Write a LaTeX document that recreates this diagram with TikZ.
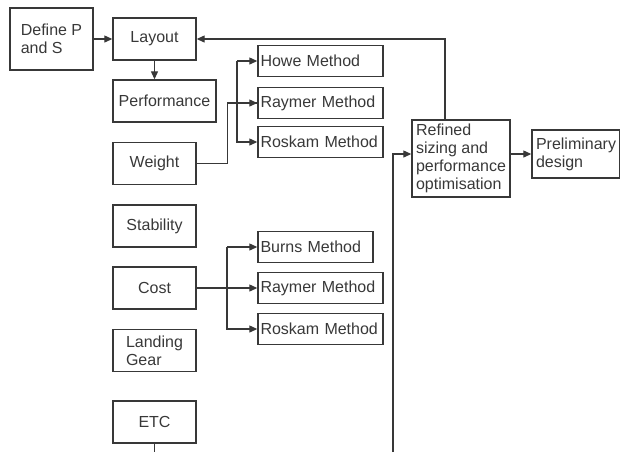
\documentclass[tikz,border=0pt]{standalone}
\usepackage{fontspec}
\setmainfont{Liberation Sans}
\usetikzlibrary{arrows.meta}
\definecolor{ink}{HTML}{383838}
\tikzset{
  stage/.style={rectangle,draw=ink,line width=0.7pt,align=left,text=ink,inner sep=2pt,minimum width=41.5pt,minimum height=21pt,font=\fontsize{8}{9}\selectfont},
  method/.style={stage,inner sep=1.25pt,minimum width=0pt,text width=60pt,minimum height=15.5pt},
  link/.style={draw=ink,line width=0.6pt},
  flow/.style={link,-{Triangle[length=4pt,width=3.5pt]}}
}
\begin{document}
\begin{tikzpicture}[x=0.5pt,y=-0.5pt]
  \useasboundingbox (0,0) rectangle (620,452);
  % main column
  \node[stage,minimum height=31pt] (defps) at (51.5,39) {Define P\\and S};
  \node[stage] (layout) at (154.5,39) {Layout};
  \node[stage,minimum width=51.5pt] (perf) at (164.5,101) {Performance};
  \node[stage] (weight) at (154.5,163.5) {Weight};
  \node[stage] (stab) at (154.5,226) {Stability};
  \node[stage] (cost) at (154.5,288) {Cost};
  \node[stage] (gear) at (154.5,350.5) {Landing\\Gear};
  \node[stage] (etc) at (154.5,422) {ETC};
  % weight methods
  \node[method] (howe) at (320.5,61) {Howe Method};
  \node[method] (raymerw) at (320.5,103) {Raymer Method};
  \node[method] (roskamw) at (320.5,142) {Roskam Method};
  % cost methods
  \node[method,text width=55pt] (burns) at (315.5,247) {Burns Method};
  \node[method] (raymerc) at (320.5,288) {Raymer Method};
  \node[method] (roskamc) at (320.5,329) {Roskam Method};
  % refinement
  \node[stage,minimum width=49pt,minimum height=36.5pt] (refined) at (461,158.5) {Refined\\sizing and\\performance\\optimisation};
  \node[stage,minimum width=43pt,minimum height=24pt] (prelim) at (576,154) {Preliminary\\design};
  \coordinate (wtrunk) at (237,61);
  \coordinate (ctrunk) at (227,247);
  \coordinate (entry) at (393,452);
  \coordinate (etcend) at (154.5,452);
  % connectors
  \draw[flow] (defps) -- (layout);
  \draw[flow] (layout.south) -- (layout.south |- perf.north);
  \draw[link] (weight.east) -- ++(31,0) |- (raymerw.west);
  \draw[flow] (wtrunk |- raymerw.west) -- (raymerw.west);
  \draw[flow] (wtrunk) -- (howe.west);
  \draw[flow] (wtrunk) |- (roskamw.west);
  \draw[flow] (cost.east) -- (raymerc.west);
  \draw[flow] (ctrunk) -- (burns.west);
  \draw[flow] (ctrunk) |- (roskamc.west);
  \draw[link] (etc.south) -- (etcend);
  \draw[flow] (entry) |- (refined.west |- prelim.west);
  \draw[flow] (refined.east |- prelim.west) -- (prelim.west);
  \draw[flow] ([xshift=-8pt]refined.north) |- (layout.east);
\end{tikzpicture}
\end{document}
